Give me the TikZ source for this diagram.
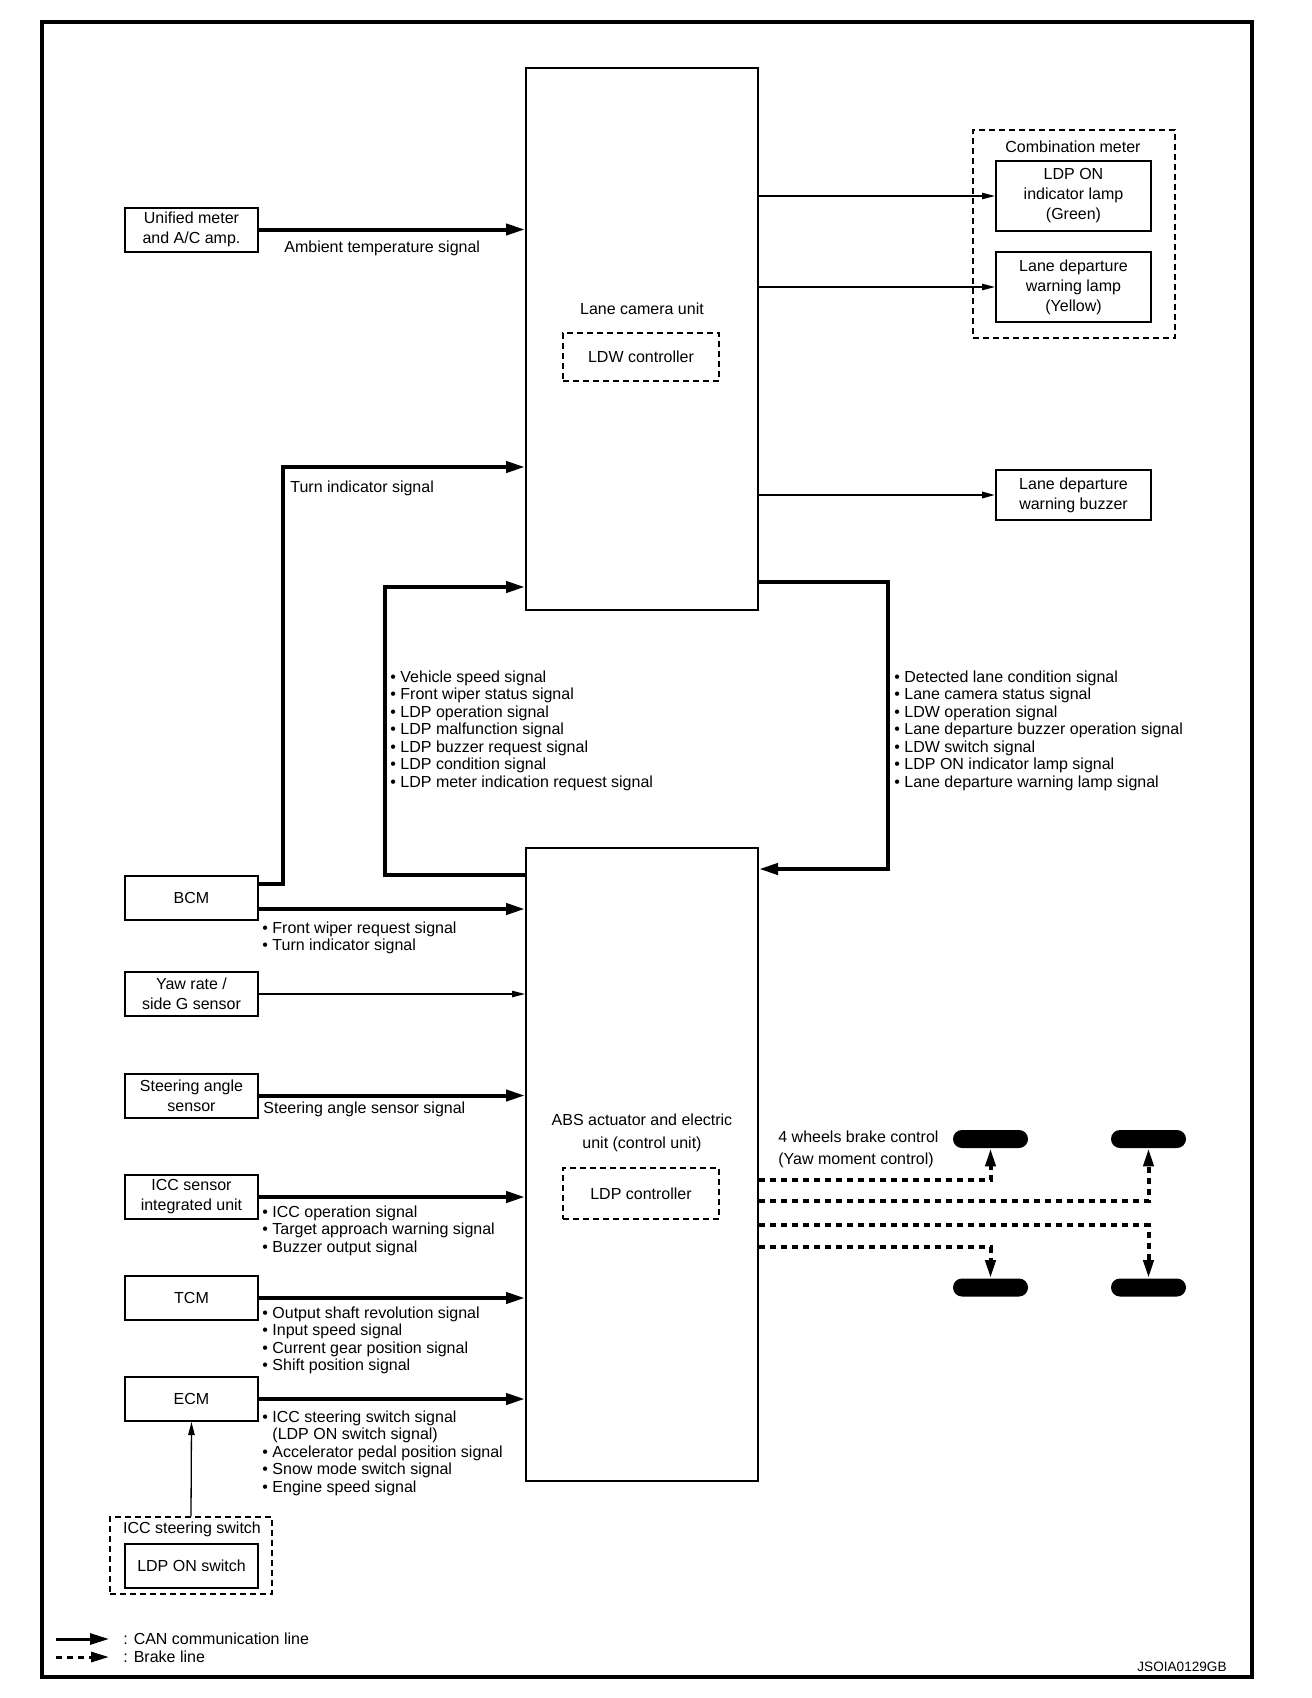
\documentclass[tikz,border=0pt]{standalone}
\usepackage{fontspec}
\setmainfont{Liberation Sans}
\usetikzlibrary{arrows.meta}

\begin{document}
\begin{tikzpicture}[x=0.5pt, y=-0.5pt,
    font=\fontsize{8}{10}\selectfont,
    unitbox/.style={draw, line width=1pt, minimum width=66.5pt, minimum height=22pt, align=center, inner sep=0pt},
    ctrlbox/.style={draw, line width=0.65pt, dash pattern=on 3pt off 2pt, minimum width=78pt, inner sep=0pt},
    sig/.style={align=left, inner sep=0pt, font=\fontsize{8}{8.75}\selectfont},
    canline/.style={line width=2pt, -{Triangle[length=9.5pt,width=5.5pt]}},
    thinline/.style={line width=0.65pt, -{Triangle[length=6.5pt,width=3.2pt]}},
    brakeline/.style={line width=2pt, dash pattern=on 3pt off 2.5pt, -{Triangle[length=9pt,width=5pt]}},
    wheel/.style={fill=black, rounded corners=4.5pt, minimum width=37.5pt, minimum height=9pt, inner sep=0pt}]

    % Frame
    \useasboundingbox (0,0) rectangle (1312,1698);
    \draw[line width=1.75pt] (42,22) rectangle (1252,1677);

    % Lane camera unit and ABS actuator
    \node[draw, line width=1pt, minimum width=116pt, minimum height=271pt, inner sep=0pt] (cam) at (642,339) {};
    \node at (642,309) {Lane camera unit};
    \node[ctrlbox, minimum height=24pt] (ldw) at (641,357) {LDW controller};
    \node[draw, line width=1pt, minimum width=116pt, minimum height=316.5pt, inner sep=0pt] (abs) at (642,1164.5) {};
    \node[align=center, font=\fontsize{8}{11.5}\selectfont] at (642,1132.5) {ABS actuator and electric\\unit (control unit)};
    \node[ctrlbox, minimum height=25.5pt] (ldp) at (641,1193.5) {LDP controller};

    % Units on the left
    \node[unitbox] (uni) at (191.5,229.5) {Unified meter\\and A/C amp.};
    \node[unitbox] (bcm) at (191.5,897.5) {BCM};
    \node[unitbox] (yaw) at (191.5,994) {Yaw rate /\\side G sensor};
    \node[unitbox] (str) at (191.5,1095.5) {Steering angle\\sensor};
    \node[unitbox] (icc) at (191.5,1197) {ICC sensor\\integrated unit};
    \node[unitbox] (tcm) at (191.5,1298) {TCM};
    \node[unitbox] (ecm) at (191.5,1399) {ECM};
    \node[draw, line width=0.65pt, dash pattern=on 3pt off 2pt, minimum width=81pt, minimum height=38.5pt, inner sep=0pt] (iccsw) at (191,1555.5) {};
    \node at (192,1529) {ICC steering switch};
    \node[unitbox] (ldpsw) at (191.5,1566) {LDP ON switch};

    % Units on the right
    \node[draw, line width=0.75pt, dash pattern=on 3pt off 2pt, minimum width=101pt, minimum height=104pt, inner sep=0pt] (cmb) at (1074,234) {};
    \node at (1073,147) {Combination meter};
    \node[unitbox, minimum width=77.5pt, minimum height=35pt] (lamp1) at (1073.5,196) {LDP ON\\indicator lamp\\(Green)};
    \node[unitbox, minimum width=77.5pt, minimum height=35pt] (lamp2) at (1073.5,287) {Lane departure\\warning lamp\\(Yellow)};
    \node[unitbox, minimum width=77.5pt, minimum height=25pt] (buz) at (1073.5,495) {Lane departure\\warning buzzer};

    % Wheels
    \node[wheel] (wfl) at (990.5,1139) {};
    \node[wheel] (wfr) at (1148.5,1139) {};
    \node[wheel] (wrl) at (990.5,1287.5) {};
    \node[wheel] (wrr) at (1148.5,1287.5) {};

    % CAN lines into the lane camera unit
    \draw[canline] (uni.east) -- (uni.east -| cam.west);
    \node[sig, anchor=west] at (284,248) {Ambient temperature signal};
    \coordinate (tiup) at (283,467);
    \draw[canline] ([yshift=6.75pt]bcm.east) -| (tiup) -- (tiup -| cam.west);
    \node[sig, anchor=west] at (290,488) {Turn indicator signal};
    \coordinate (loopL) at (385,587);
    \draw[canline] ([yshift=-14pt]abs.north west) -| (loopL) -- (loopL -| cam.west);
    \node[sig, anchor=north west] at (390,670) {\textbullet\ Vehicle speed signal\\\textbullet\ Front wiper status signal\\\textbullet\ LDP operation signal\\\textbullet\ LDP malfunction signal\\\textbullet\ LDP buzzer request signal\\\textbullet\ LDP condition signal\\\textbullet\ LDP meter indication request signal};

    % CAN line back to the ABS actuator
    \coordinate (loopR) at (888,582);
    \draw[canline] (loopR -| cam.east) -- (loopR) |- ([yshift=-11pt]abs.north east);
    \node[sig, anchor=north west] at (894,670) {\textbullet\ Detected lane condition signal\\\textbullet\ Lane camera status signal\\\textbullet\ LDW operation signal\\\textbullet\ Lane departure buzzer operation signal\\\textbullet\ LDW switch signal\\\textbullet\ LDP ON indicator lamp signal\\\textbullet\ Lane departure warning lamp signal};

    % Outputs of the lane camera unit
    \draw[thinline] (lamp1 -| cam.east) -- (lamp1.west);
    \draw[thinline] (lamp2 -| cam.east) -- (lamp2.west);
    \draw[thinline, line width=1pt] (buz -| cam.east) -- (buz.west);

    % Inputs of the ABS actuator
    \path ([yshift=-5.75pt]bcm.east) coordinate (bcmout);
    \draw[canline] (bcmout) -- (bcmout -| abs.west);
    \node[sig, anchor=north west] at (262,921) {\textbullet\ Front wiper request signal\\\textbullet\ Turn indicator signal};
    \draw[thinline] (yaw.east) -- (yaw.east -| abs.west);
    \draw[canline] (str.east) -- (str.east -| abs.west);
    \node[sig, anchor=west] at (263,1109) {Steering angle sensor signal};
    \draw[canline] (icc.east) -- (icc.east -| abs.west);
    \node[sig, anchor=north west] at (262,1205) {\textbullet\ ICC operation signal\\\textbullet\ Target approach warning signal\\\textbullet\ Buzzer output signal};
    \draw[canline] (tcm.east) -- (tcm.east -| abs.west);
    \node[sig, anchor=north west] at (262,1306) {\textbullet\ Output shaft revolution signal\\\textbullet\ Input speed signal\\\textbullet\ Current gear position signal\\\textbullet\ Shift position signal};
    \draw[canline] (ecm.east) -- (ecm.east -| abs.west);
    \node[sig, anchor=north west] at (262,1410) {\textbullet\ ICC steering switch signal\\\hphantom{\textbullet\ }(LDP ON switch signal)\\\textbullet\ Accelerator pedal position signal\\\textbullet\ Snow mode switch signal\\\textbullet\ Engine speed signal};
    \draw[thinline] (iccsw.north) -- (ecm.south);

    % Brake lines to the wheels
    \node[sig, anchor=north west, font=\fontsize{8}{11}\selectfont] at (778,1130) {4 wheels brake control\\(Yaw moment control)};
    \foreach \dy/\w in {-7.75/wfl, -18.25/wfr, -30.25/wrr, -41.25/wrl}
        \draw[brakeline] ([yshift=\dy pt]abs.east) -| (\w);

    % Legend
    \node[sig, anchor=west] (legcan) at (123,1639) {: CAN communication line};
    \node[sig, anchor=west] (legbrk) at (123,1657) {: Brake line};
    \draw[canline, line width=1.5pt] ([xshift=-33.5pt]legcan.west) -- ([xshift=-7pt]legcan.west);
    \draw[brakeline, line width=1.5pt] ([xshift=-33.5pt]legbrk.west) -- ([xshift=-7pt]legbrk.west);
    \node[anchor=east, inner sep=0pt, font=\fontsize{6.8}{7}\selectfont] at (1227,1667) {JSOIA0129GB};
\end{tikzpicture}
\end{document}
